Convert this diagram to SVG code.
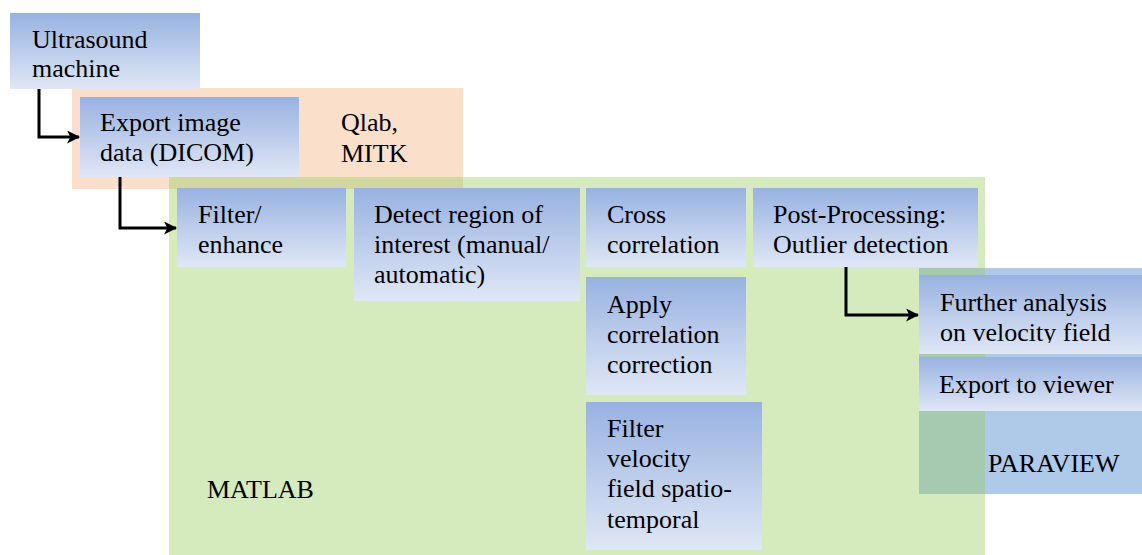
<svg xmlns="http://www.w3.org/2000/svg" width="1142" height="555" viewBox="0 0 1142 555">
  <defs>
    <linearGradient id="boxFill" x1="0" y1="0" x2="0" y2="1">
      <stop offset="0" stop-color="#98B2E1"/>
      <stop offset="1" stop-color="#E0E7F5"/>
    </linearGradient>
    <marker id="arrow" viewBox="0 0 12 12" refX="11" refY="6" markerWidth="13" markerHeight="13" markerUnits="userSpaceOnUse" orient="auto">
      <path d="M0,0 L12,6 L0,12 L3,6 Z" fill="#000"/>
    </marker>
    <clipPath id="furtherClip">
      <rect x="919" y="275" width="223" height="68"/>
    </clipPath>
  </defs>
  <style>
    .box { fill: url(#boxFill); }
    .lbl { font-family: "Liberation Serif", "Times New Roman", serif; font-size: 26px; fill: #000; }
    .conn { fill: none; stroke: #000; stroke-width: 3; marker-end: url(#arrow); }
  </style>

  <!-- tool regions -->
  <g id="qlab-region">
    <rect x="72" y="88" width="391" height="101" fill="#FAE0CA"/>
    <text class="lbl" x="341" y="131">Qlab,</text>
    <text class="lbl" x="341" y="162">MITK</text>
  </g>
  <g id="paraview-region">
    <rect x="919" y="268" width="223" height="226" fill="#AFC9E9"/>
    <text class="lbl" x="988" y="472">PARAVIEW</text>
  </g>
  <g id="matlab-region">
    <rect x="169" y="177" width="816" height="378" fill="rgb(150,206,90)" fill-opacity="0.4"/>
    <text class="lbl" x="207" y="498">MATLAB</text>
  </g>

  <!-- process steps -->
  <g id="ultrasound">
    <rect class="box" x="10" y="13" width="190" height="76"/>
    <text class="lbl" x="32" y="48">Ultrasound</text>
    <text class="lbl" x="32" y="77">machine</text>
  </g>
  <g id="export-image">
    <rect class="box" x="80" y="97" width="219" height="80"/>
    <text class="lbl" x="100" y="131">Export image</text>
    <text class="lbl" x="100" y="161">data (DICOM)</text>
  </g>
  <g id="filter-enhance">
    <rect class="box" x="177" y="188" width="169" height="79"/>
    <text class="lbl" x="198" y="223">Filter/</text>
    <text class="lbl" x="198" y="253">enhance</text>
  </g>
  <g id="detect-roi">
    <rect class="box" x="354" y="188" width="226" height="113"/>
    <text class="lbl" x="374" y="223">Detect region of</text>
    <text class="lbl" x="374" y="253">interest (manual/</text>
    <text class="lbl" x="374" y="283">automatic)</text>
  </g>
  <g id="cross-correlation">
    <rect class="box" x="586" y="188" width="160" height="79"/>
    <text class="lbl" x="607" y="223">Cross</text>
    <text class="lbl" x="607" y="253">correlation</text>
  </g>
  <g id="post-processing">
    <rect class="box" x="753" y="188" width="225" height="79"/>
    <text class="lbl" x="773" y="223">Post-Processing:</text>
    <text class="lbl" x="773" y="253">Outlier detection</text>
  </g>
  <g id="correlation-correction">
    <rect class="box" x="586" y="277" width="160" height="118"/>
    <text class="lbl" x="607" y="313">Apply</text>
    <text class="lbl" x="607" y="343">correlation</text>
    <text class="lbl" x="607" y="373">correction</text>
  </g>
  <g id="filter-velocity">
    <rect class="box" x="586" y="402" width="176" height="148"/>
    <text class="lbl" x="607" y="437">Filter</text>
    <text class="lbl" x="607" y="467">velocity</text>
    <text class="lbl" x="607" y="497">field spatio-</text>
    <text class="lbl" x="607" y="528">temporal</text>
  </g>
  <g id="further-analysis">
    <rect class="box" x="919" y="275" width="223" height="79"/>
    <g clip-path="url(#furtherClip)">
      <text class="lbl" x="940" y="311">Further analysis</text>
      <text class="lbl" x="940" y="341">on velocity field</text>
    </g>
  </g>
  <g id="export-viewer">
    <rect class="box" x="919" y="357" width="223" height="54"/>
    <text class="lbl" x="939" y="393">Export to viewer</text>
  </g>

  <!-- connectors -->
  <g id="connectors">
    <path class="conn" d="M39,89 V137 H79"/>
    <path class="conn" d="M120,177 V228 H176"/>
    <path class="conn" d="M846,267 V315 H918"/>
  </g>
</svg>
